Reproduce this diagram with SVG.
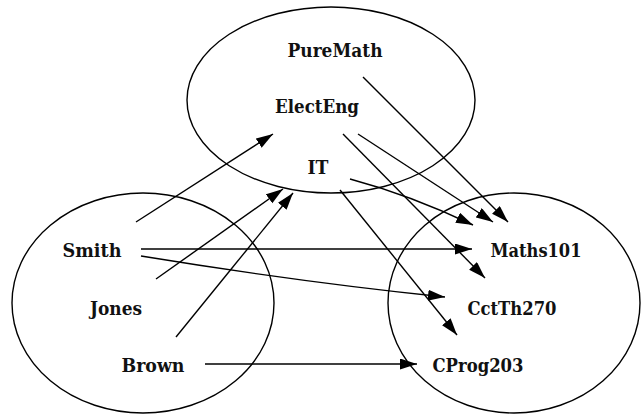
<svg xmlns="http://www.w3.org/2000/svg" width="642" height="415" viewBox="0 0 642 415">
<style>
.set{fill:none;stroke:#000;stroke-width:1.4}
.lbl{font-family:"DejaVu Serif","Liberation Serif",serif;font-weight:bold;font-size:18.5px;fill:#111;text-anchor:middle}
.c{fill:none;stroke:#000;stroke-width:1.4;marker-end:url(#ah)}
</style>
<defs>
<marker id="ah" markerUnits="userSpaceOnUse" markerWidth="18" markerHeight="12" refX="17" refY="5.5" orient="auto">
<path d="M0,0 L17,5.5 L0,11 z" fill="#000"/>
</marker>
</defs>
<rect width="642" height="415" fill="#fff"/>
<g id="sets">
<ellipse id="dept" class="set" cx="331" cy="100" rx="144" ry="93"/>
<ellipse id="students" class="set" cx="143" cy="303" rx="131" ry="110"/>
<ellipse id="courses" class="set" cx="514" cy="303" rx="126" ry="110"/>
</g>
<g id="PureMath"><text class="lbl" x="335" y="57" textLength="95" lengthAdjust="spacingAndGlyphs">PureMath</text></g>
<g id="ElectEng"><text class="lbl" x="317" y="113" textLength="84" lengthAdjust="spacingAndGlyphs">ElectEng</text></g>
<g id="IT"><text class="lbl" x="318" y="174" textLength="21" lengthAdjust="spacingAndGlyphs">IT</text></g>
<g id="Smith"><text class="lbl" x="92" y="257" textLength="59" lengthAdjust="spacingAndGlyphs">Smith</text></g>
<g id="Jones"><text class="lbl" x="116" y="315" textLength="52" lengthAdjust="spacingAndGlyphs">Jones</text></g>
<g id="Brown"><text class="lbl" x="153" y="372" textLength="63" lengthAdjust="spacingAndGlyphs">Brown</text></g>
<g id="Maths101"><text class="lbl" x="536" y="257" textLength="91" lengthAdjust="spacingAndGlyphs">Maths101</text></g>
<g id="CctTh270"><text class="lbl" x="512" y="315" textLength="89" lengthAdjust="spacingAndGlyphs">CctTh270</text></g>
<g id="CProg203"><text class="lbl" x="478" y="372" textLength="91" lengthAdjust="spacingAndGlyphs">CProg203</text></g>
<g id="connectors">
<line class="c" x1="136" y1="222" x2="273" y2="134"/>
<line class="c" x1="156" y1="279" x2="283" y2="189"/>
<line class="c" x1="176" y1="337" x2="293" y2="193"/>
<line class="c" x1="141" y1="249" x2="472" y2="249"/>
<path class="c" d="M141,256 Q300,282 445,297"/>
<line class="c" x1="205" y1="364" x2="417" y2="364"/>
<line class="c" x1="340" y1="190" x2="457" y2="335"/>
<path class="c" d="M350,179 Q410,195 473,225"/>
<line class="c" x1="343" y1="134" x2="485" y2="278"/>
<line class="c" x1="358" y1="134" x2="493" y2="222"/>
<line class="c" x1="363" y1="77" x2="508" y2="222"/>
</g>
</svg>
